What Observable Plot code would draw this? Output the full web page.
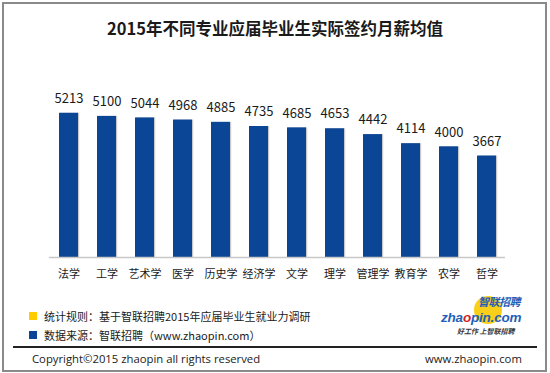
<!DOCTYPE html>
<html>
<head>
<meta charset="utf-8">
<script src="https://cdn.jsdelivr.net/npm/d3@7"></script>
<script src="https://cdn.jsdelivr.net/npm/@observablehq/plot@0.6"></script>
<style>
  html, body { margin: 0; padding: 0; background: #fff; }
  body { width: 550px; height: 373px; position: relative; overflow: hidden;
         font-family: "Noto Sans CJK SC", "Noto Sans", sans-serif; color: #1a1a1a; }
  .abs { position: absolute; white-space: nowrap; }
  #frame { position: absolute; left: 2px; top: 2px; width: 541px; height: 366px;
           border: 2px solid #8a8a8a; z-index: 5; pointer-events: none; }
  #chart { position: absolute; left: 0; top: 0; z-index: 2; }
  #title { left: 0; width: 550px; top: 17px; text-align: center; font-size: 16.5px; font-weight: bold; line-height: 22px; }
  .sq { position: absolute; width: 8px; height: 8px; }
  .leg { font-size: 11px; line-height: 14px; }
  #rule { position: absolute; left: 13px; top: 346px; width: 524px; height: 1.5px; background: #222; }
  .foot { font-family: "Open Sans", "Noto Sans", sans-serif; font-size: 11.3px; line-height: 14px; top: 352px; }
  #logo { position: absolute; left: 430px; top: 288px; z-index: 3; overflow: visible; }
</style>
</head>
<body>
<div id="frame"></div>
<div id="chart"></div>
<div id="title" class="abs"></div>
<div class="sq" style="left:29px;top:312px;background:#FFCC00"></div>
<div id="leg1" class="abs leg" style="left:44px;top:309px"></div>
<div class="sq" style="left:29px;top:331px;background:#0A4596"></div>
<div id="leg2" class="abs leg" style="left:44px;top:328px"></div>
<div id="rule"></div>
<div id="copy" class="abs foot" style="left:32px"></div>
<div id="site" class="abs foot" style="left:425px"></div>
<svg id="logo" width="100" height="50" viewBox="0 0 100 50">
  <path d="M44,22 A14,14 0 1,0 72,22 A14,14 0 1,0 44,22 Z" style="fill:#f9cf1a"></path>
  <text x="48" y="18" font-size="11" font-weight="bold" font-style="italic" fill="#1f5fb8" font-family="'Noto Sans CJK SC'" letter-spacing="-0.5">智联招聘</text>
  <text x="11" y="34" font-size="13.5" font-weight="bold" font-style="italic" fill="#1f5fb8" font-family="'Liberation Sans', Arial, sans-serif" letter-spacing="-0.2">zha<tspan fill="#d41f26">o</tspan>pin.com</text>
  <text x="27" y="45.8" font-size="7" font-weight="bold" font-style="italic" fill="#333" font-family="'Noto Sans CJK SC'">好工作  上智联招聘</text>
</svg>
<script>
const categories = ["法学", "工学", "艺术学", "医学", "历史学", "经济学", "文学", "理学", "管理学", "教育学", "农学", "哲学"];
const salaries = [5213, 5100, 5044, 4968, 4885, 4735, 4685, 4653, 4442, 4114, 4000, 3667];
const titleText = "2015年不同专业应届毕业生实际签约月薪均值";
const legendTexts = ["统计规则：基于智联招聘2015年应届毕业生就业力调研", "数据来源：智联招聘（www.zhaopin.com）"];
const footerLeft = "Copyright©2015 zhaopin all rights reserved";
const footerRight = "www.zhaopin.com";

document.getElementById("title").textContent = titleText;
document.getElementById("leg1").textContent = legendTexts[0];
document.getElementById("leg2").textContent = legendTexts[1];
document.getElementById("copy").textContent = footerLeft;
document.getElementById("site").textContent = footerRight;

const data = categories.map((c, i) => ({major: c, value: salaries[i]}));

const chart = Plot.plot({
  width: 550,
  height: 290,
  marginLeft: 49,
  marginRight: 45,
  marginTop: 91,
  marginBottom: 33,
  style: {background: "transparent", fontSize: "11px", fontFamily: "'Noto Sans CJK SC', 'Noto Sans', sans-serif", color: "#1a1a1a"},
  x: {domain: categories, paddingInner: 0.5, paddingOuter: 0.235, tickSize: 0, tickPadding: 13, label: null},
  y: {domain: [0, 6000], axis: null},
  marks: [
    Plot.barY(data, {x: "major", y: "value", fill: "#c9c9c9", dx: 1.2}),
    Plot.barY(data, {x: "major", y: "value", fill: "#0A4596"}),
    Plot.ruleY([0], {stroke: "#c8c8c8", strokeWidth: 1.5}),
    Plot.text(data, {x: "major", y: "value", text: d => String(d.value), dy: -14.5, fontSize: 13, fill: "#1a1a1a"})
  ]
});
document.getElementById("chart").appendChild(chart);
</script>
</body>
</html>
